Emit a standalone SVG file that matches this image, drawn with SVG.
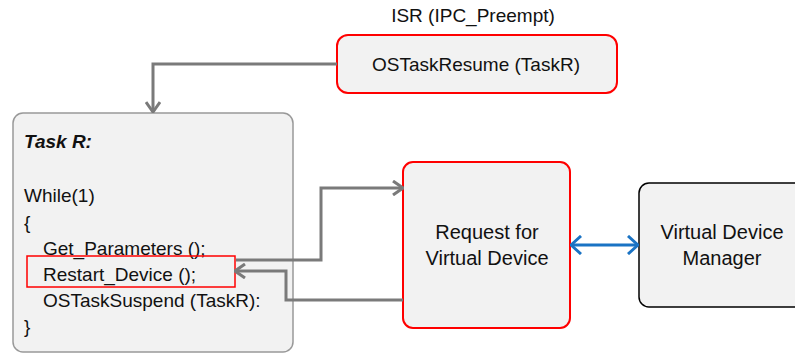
<svg xmlns="http://www.w3.org/2000/svg" width="795" height="354" viewBox="0 0 795 354">
<defs>
<style>
text{font-family:"Liberation Sans",Arial,sans-serif;font-size:19px;fill:#111}
.big{font-size:20px}
.box{fill:#f2f2f2}
.red{stroke:#ff0000;stroke-width:2}
.conn{fill:none;stroke:#7a7a7a;stroke-width:3}
.blue{fill:none;stroke:#1a73c4;stroke-width:3}
</style>
<marker id="ah" viewBox="0 0 12 16" refX="11" refY="8" markerWidth="12" markerHeight="16" markerUnits="userSpaceOnUse" orient="auto-start-reverse">
<path d="M1,1 L11,8 L1,15" fill="none" stroke="#7a7a7a" stroke-width="3"/>
</marker>
<marker id="bh" viewBox="0 0 12 20" refX="11" refY="10" markerWidth="12" markerHeight="20" markerUnits="userSpaceOnUse" orient="auto-start-reverse">
<path d="M1,1 L11,10 L1,19" fill="none" stroke="#1a73c4" stroke-width="3"/>
</marker>
</defs>
<text x="473" y="22" text-anchor="middle">ISR (IPC_Preempt)</text>
<g id="resume">
<rect class="box red" x="337" y="35" width="280" height="58" rx="11"/>
<text x="476" y="71" text-anchor="middle">OSTaskResume (TaskR)</text>
</g>
<g id="taskR">
<rect class="box" x="13" y="113" width="280" height="239" rx="10" stroke="#999" stroke-width="1.5"/>
<text x="24" y="148" font-weight="bold" font-style="italic" font-size="18">Task R:</text>
<text x="24" y="202">While(1)</text>
<text x="24" y="229">{</text>
<text x="43" y="255">Get_Parameters ();</text>
<text x="43" y="281">Restart_Device ();</text>
<text x="43" y="307">OSTaskSuspend (TaskR):</text>
<text x="24" y="333">}</text>
<rect x="27" y="256" width="208" height="31" fill="none" stroke="#ff0000" stroke-width="1.5"/>
</g>
<g id="request">
<rect class="box red" x="403" y="162" width="167" height="166" rx="10"/>
<text class="big" x="487" y="239" text-anchor="middle">Request for</text>
<text class="big" x="487" y="265" text-anchor="middle">Virtual Device</text>
</g>
<g id="vdm">
<rect class="box" x="639" y="183" width="170" height="124" rx="10" stroke="#000" stroke-width="1.5"/>
<text class="big" x="722" y="239" text-anchor="middle">Virtual Device</text>
<text class="big" x="722" y="265" text-anchor="middle">Manager</text>
</g>
<g id="connectors">
<path class="conn" d="M337,64 H153 V112" marker-end="url(#ah)"/>
<path class="conn" d="M236,260 H321 V188 H403" marker-end="url(#ah)"/>
<path class="conn" d="M403,300 H286 V271 H235" marker-end="url(#ah)"/>
<path class="blue" d="M571,245 H638" marker-start="url(#bh)" marker-end="url(#bh)"/>
</g>
</svg>
